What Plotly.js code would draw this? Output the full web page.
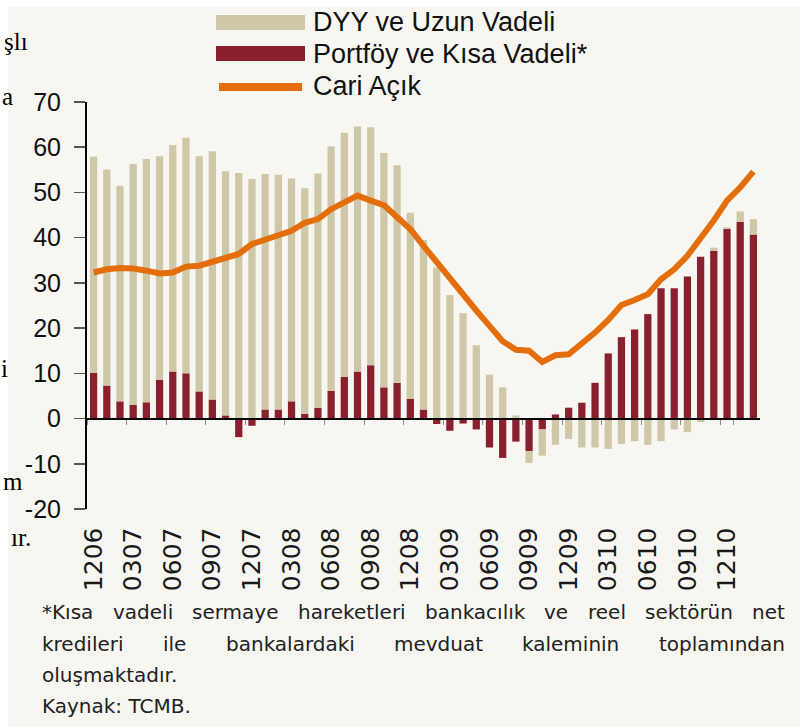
<!DOCTYPE html>
<html>
<head>
<meta charset="utf-8">
<script src="https://cdn.plot.ly/plotly-3.0.1.min.js"></script>
<style>
html,body{margin:0;padding:0;background:#ffffff;}
#chart{width:810px;height:727px;}
</style>
</head>
<body>
<div id="chart"></div>
<script>
// ---- data ----
const months = ['1206','0107','0207','0307','0407','0507','0607','0707','0807','0907','1007','1107',
 '1207','0108','0208','0308','0408','0508','0608','0708','0808','0908','1008','1108',
 '1208','0109','0209','0309','0409','0509','0609','0709','0809','0909','1009','1109',
 '1209','0110','0210','0310','0410','0510','0610','0710','0810','0910','1010','1110',
 '1210','0111','0211'];
const tickLabels = ['1206','0307','0607','0907','1207','0308','0608','0908','1208','0309','0609','0909','1209','0310','0610','0910','1210'];
const portfoyKisa = [10.1,7.3,3.8,3.0,3.6,8.6,10.4,10.0,6.0,4.2,0.7,-4.1,
 -1.6,2.0,2.0,3.8,1.0,2.4,6.1,9.2,10.4,11.8,6.9,7.9,
 4.4,2.0,-1.2,-2.7,-1.1,-2.4,-6.4,-8.7,-5.1,-7.2,-2.4,0.9,
 2.4,3.5,7.9,14.4,18.0,19.7,23.1,28.8,28.8,31.4,35.8,37.1,
 41.9,43.5,40.7];
const dyyUzun = [47.8,47.8,47.7,53.3,53.8,49.4,50.1,52.1,52.0,54.9,54.0,54.3,
 53.0,52.1,51.9,49.3,49.9,51.8,54.1,54.0,54.2,52.6,51.8,48.1,
 41.1,37.5,33.4,27.3,23.3,16.2,9.7,6.9,0.7,-2.6,-5.8,-5.8,
 -4.5,-6.4,-6.4,-6.7,-5.6,-5.0,-5.8,-5.0,-2.4,-3.0,-0.8,0.7,
 0.4,2.3,3.4];
const cariAcik = [32.3,33.0,33.3,33.2,32.7,32.1,32.3,33.6,33.8,34.7,35.6,36.4,
 38.6,39.5,40.3,41.5,43.3,44.1,46.3,47.8,49.3,48.2,47.2,44.5,
 41.9,38.2,34.5,31.2,27.5,23.9,20.5,17.1,15.2,15.0,12.5,14.0,
 14.2,16.4,19.0,21.8,25.1,26.2,27.5,30.8,33.0,36.0,39.7,43.8,
 48.2,51.1,54.6];
const yTicks = [-20,-10,0,10,20,30,40,50,60,70];
const seriesNames = ['DYY ve Uzun Vadeli','Portföy ve Kısa Vadeli*','Cari Açık'];
const footLines = [
 '*Kısa vadeli sermaye hareketleri bankacılık ve reel sektörün net',
 'kredileri ile bankalardaki mevduat kaleminin toplamından',
 'oluşmaktadır.',
 'Kaynak: TCMB.'
];
const edgeFragments = ['şlı','a','i','m','ır.'];

// ---- styling ----
const C_DYY = '#CEC8A8', C_PORT = '#8A1F2E', C_CARI = '#E56E0C', C_PANEL = '#F7F6F1';
const M = {l:87, r:50, t:102, b:218};
const PW = 810 - M.l - M.r, PH = 727 - M.t - M.b;
const fx = px => (px - M.l) / PW;
const fy = py => (727 - M.b - py) / PH;

const traces = [
 {type:'bar', x:months, y:portfoyKisa, name:seriesNames[1], marker:{color:C_PORT}, showlegend:false, hoverinfo:'skip'},
 {type:'bar', x:months, y:dyyUzun, name:seriesNames[0], marker:{color:C_DYY}, showlegend:false, hoverinfo:'skip'},
 {type:'scatter', mode:'lines', x:months, y:cariAcik, name:seriesNames[2], line:{color:C_CARI, width:6}, showlegend:false, hoverinfo:'skip'}
];

const shapes = [
 {type:'rect', xref:'paper', yref:'paper', layer:'below', x0:fx(8), x1:fx(800), y0:fy(727), y1:fy(7), fillcolor:C_PANEL, line:{width:0}},
 {type:'rect', xref:'paper', yref:'paper', x0:fx(216), x1:fx(305), y0:fy(30), y1:fy(15), fillcolor:C_DYY, line:{width:0}},
 {type:'rect', xref:'paper', yref:'paper', x0:fx(216), x1:fx(305), y0:fy(61), y1:fy(46), fillcolor:C_PORT, line:{width:0}},
 {type:'line', xref:'paper', yref:'paper', x0:fx(219), x1:fx(302), y0:fy(87), y1:fy(87), line:{color:C_CARI, width:8}}
];

const LEG_FONT = {family:'Liberation Sans, Arial, sans-serif', size:27, color:'#111'};
const annotations = [
 {text:seriesNames[0], x:fx(311), y:fy(22), xanchor:'left', yanchor:'middle'},
 {text:seriesNames[1], x:fx(311), y:fy(54), xanchor:'left', yanchor:'middle'},
 {text:seriesNames[2], x:fx(311), y:fy(86), xanchor:'left', yanchor:'middle'}
].map(a => Object.assign(a, {xref:'paper', yref:'paper', showarrow:false, font:LEG_FONT}));

// footnote
const FOOT_SIZE = 20, FOOT_FAM = 'DejaVu Sans';
const cv = document.createElement('canvas').getContext('2d');
cv.font = FOOT_SIZE + 'px "' + FOOT_FAM + '"';
const footY = [612, 644, 675, 706];
const footLeft = 40, footRight = 783;
footLines.forEach((line, k) => {
  const justify = k < 2;
  const fnt = {family:FOOT_FAM, size:FOOT_SIZE, color:'#222'};
  if (!justify) {
    annotations.push({text:line, xref:'paper', yref:'paper', x:fx(footLeft), y:fy(footY[k]), xanchor:'left', yanchor:'middle', showarrow:false, font:fnt});
    return;
  }
  const words = line.split(' ');
  const widths = words.map(w => cv.measureText(w).width);
  const total = widths.reduce((a,b)=>a+b,0);
  const gap = (footRight - footLeft - total) / (words.length - 1);
  let cx = footLeft;
  words.forEach((w, i) => {
    annotations.push({text:w, xref:'paper', yref:'paper', x:fx(cx), y:fy(footY[k]), xanchor:'left', yanchor:'middle', showarrow:false, font:fnt});
    cx += widths[i] + gap;
  });
});

// left edge text fragments
const fragPos = [[30,41],[15,96],[10,368],[25,481],[33,537]];
edgeFragments.forEach((t, i) => {
  annotations.push({text:t, xref:'paper', yref:'paper', x:fx(fragPos[i][0]), y:fy(fragPos[i][1]), xanchor:'right', yanchor:'middle', showarrow:false,
    font:{family:'Liberation Serif, Times New Roman, serif', size:25, color:'#000'}});
});

const layout = {
  width:810, height:727,
  margin:{l:M.l, r:M.r, t:M.t, b:M.b, pad:0},
  paper_bgcolor:'#ffffff', plot_bgcolor:'rgba(0,0,0,0)',
  barmode:'relative', bargap:0.45,
  showlegend:false,
  xaxis:{
    type:'category', categoryorder:'array', categoryarray:months,
    range:[-0.5, months.length - 0.5],
    anchor:'free', position:20/90,
    showline:true, linecolor:'#000', linewidth:2,
    ticks:'outside', ticklen:5, tickwidth:1, tickcolor:'#8a8a8a', tickson:'boundaries',
    tickmode:'array', tickvals:tickLabels, ticktext:tickLabels,
    tickangle:-90, ticklabelstandoff:98,
    tickfont:{family:'DejaVu Sans', size:25, color:'#1a1a1a'},
    showgrid:false, zeroline:false, fixedrange:true
  },
  yaxis:{
    range:[-20,70], tickmode:'array', tickvals:yTicks, ticktext:yTicks.map(String),
    showline:true, linecolor:'#000', linewidth:2,
    ticks:'outside', ticklen:11, tickwidth:1.5, tickcolor:'#555', ticklabelstandoff:8,
    tickfont:{family:'Liberation Sans, Arial, sans-serif', size:25, color:'#111'},
    showgrid:false, zeroline:false, fixedrange:true
  },
  shapes:shapes,
  annotations:annotations
};

Plotly.newPlot('chart', traces, layout, {displayModeBar:false, staticPlot:true});
</script>
</body>
</html>
